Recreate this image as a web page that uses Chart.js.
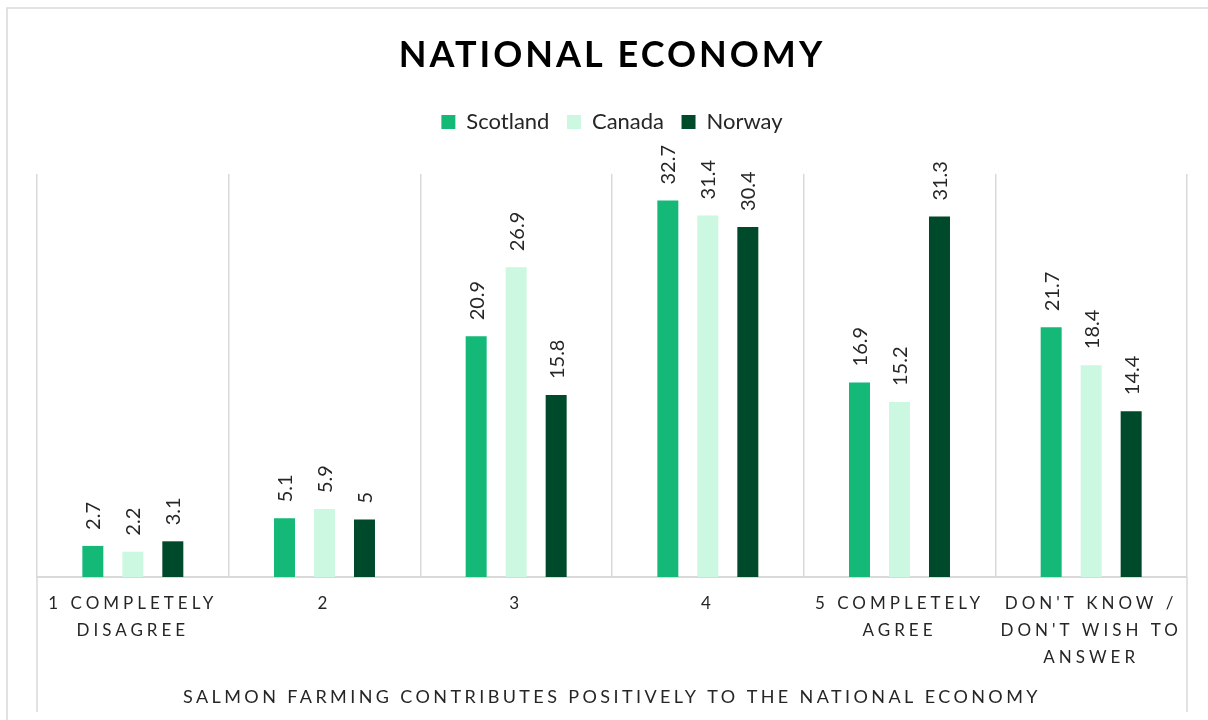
<!DOCTYPE html>
<html>
<head>
<meta charset="utf-8">
<title>National Economy</title>
<script src="https://cdn.jsdelivr.net/npm/chart.js@4/dist/chart.umd.min.js"></script>
<style>
  html, body { margin: 0; padding: 0; background: #ffffff; }
  #wrap { width: 1208px; height: 720px; position: relative; }
</style>
</head>
<body>
<div id="wrap"><canvas id="chart" width="1208" height="720"></canvas></div>
<script>
// Survey answers (percent of respondents) per country
const categories = [
  ['1 COMPLETELY', 'DISAGREE'],
  '2',
  '3',
  '4',
  ['5 COMPLETELY', 'AGREE'],
  ["DON'T KNOW /", "DON'T WISH TO", 'ANSWER']
];
const seriesNames = ['Scotland', 'Canada', 'Norway'];
const scotland = [2.7, 5.1, 20.9, 32.7, 16.9, 21.7];
const canada   = [2.2, 5.9, 26.9, 31.4, 15.2, 18.4];
const norway   = [3.1, 5, 15.8, 30.4, 31.3, 14.4];
const chartTitle = 'NATIONAL ECONOMY';
const axisTitle = 'SALMON FARMING CONTRIBUTES POSITIVELY TO THE NATIONAL ECONOMY';
const yMin = 0;
const yMax = 35;

const seriesColors = ['#14b978', '#ccf7e0', '#004a2c'];
const textColor = '#262626';
const lineColor = '#d9d9d9';
const FONT = 'Lato, "Open Sans", "DejaVu Sans", sans-serif';

// Wraps a draw method so its text is drawn with extra letter spacing
function withSpacing(obj, method, spacing) {
  if (!obj || obj['__spaced_' + method]) return;
  const orig = obj[method];
  obj[method] = function (...args) {
    const ctx = this.ctx;
    const prev = ctx.letterSpacing;
    ctx.letterSpacing = spacing;
    try { return orig.apply(this, args); }
    finally { ctx.letterSpacing = prev || '0px'; }
  };
  obj['__spaced_' + method] = true;
}

const letterSpacingPlugin = {
  id: 'letterSpacing',
  beforeDraw(chart) {
    withSpacing(chart.titleBlock, 'draw', '3px');
    withSpacing(chart.scales.x, 'drawLabels', '4px');
    withSpacing(chart.scales.x, 'drawTitle', '3.4px');
  }
};

// Light frame around the whole figure
const framePlugin = {
  id: 'frame',
  beforeDraw(chart) {
    const ctx = chart.ctx;
    ctx.save();
    ctx.strokeStyle = lineColor;
    ctx.lineWidth = 1.5;
    ctx.strokeRect(7, 8, chart.width + 20, chart.height + 20);
    ctx.restore();
  }
};

// Outer category separators run down past the tick labels
const edgeLinesPlugin = {
  id: 'edgeLines',
  afterDraw(chart) {
    const {ctx, chartArea} = chart;
    ctx.save();
    ctx.strokeStyle = lineColor;
    ctx.lineWidth = 1.5;
    ctx.beginPath();
    [chartArea.left, chartArea.right].forEach(x => {
      ctx.moveTo(x, chartArea.bottom);
      ctx.lineTo(x, chart.height - 8);
    });
    ctx.stroke();
    ctx.restore();
  }
};

// Rotated value labels above each bar
const valueLabelsPlugin = {
  id: 'valueLabels',
  afterDatasetsDraw(chart) {
    const ctx = chart.ctx;
    chart.data.datasets.forEach((ds, di) => {
      const meta = chart.getDatasetMeta(di);
      if (meta.hidden) return;
      meta.data.forEach((bar, i) => {
        const v = ds.data[i];
        ctx.save();
        ctx.translate(bar.x + 1, bar.y - 16);
        ctx.rotate(-Math.PI / 2);
        ctx.font = '20px ' + FONT;
        ctx.fillStyle = textColor;
        ctx.textAlign = 'left';
        ctx.textBaseline = 'middle';
        ctx.fillText(String(v), 0, 0);
        ctx.restore();
      });
    });
  }
};

const datasets = [scotland, canada, norway].map((values, i) => ({
  label: seriesNames[i],
  data: values,
  backgroundColor: seriesColors[i],
  borderWidth: 0,
  categoryPercentage: 0.626,
  barPercentage: 0.525
}));

new Chart(document.getElementById('chart'), {
  type: 'bar',
  data: { labels: categories, datasets },
  plugins: [framePlugin, letterSpacingPlugin, valueLabelsPlugin, edgeLinesPlugin],
  options: {
    responsive: false,
    animation: false,
    devicePixelRatio: 1,
    layout: { padding: { left: 37, right: 21, top: 0, bottom: 0 } },
    plugins: {
      title: {
        display: true,
        text: chartTitle,
        color: '#000000',
        font: { family: FONT, size: 36, weight: 'bold', lineHeight: 1.2 },
        padding: { top: 34, bottom: 16.3 }
      },
      subtitle: {
        display: true,
        text: '',
        weight: 500,
        font: { family: FONT, size: 10, lineHeight: 1 },
        padding: { top: 0, bottom: 21 }
      },
      legend: {
        display: true,
        position: 'top',
        labels: {
          boxWidth: 14,
          boxHeight: 14,
          padding: 17.5,
          color: textColor,
          font: { family: FONT, size: 22 }
        }
      },
      tooltip: { enabled: false }
    },
    scales: {
      x: {
        type: 'category',
        offset: true,
        grid: {
          display: true,
          offset: true,
          color: lineColor,
          lineWidth: 1.5,
          drawTicks: false
        },
        border: { display: true, color: lineColor, width: 2 },
        ticks: {
          color: textColor,
          font: { family: FONT, size: 17, lineHeight: 1.6 },
          padding: 13,
          autoSkip: false,
          maxRotation: 0,
          minRotation: 0
        },
        title: {
          display: true,
          text: axisTitle,
          color: textColor,
          font: { family: FONT, size: 18, lineHeight: 1.2 },
          padding: { top: 0, bottom: 12 }
        },
        afterFit(scale) { scale.height = 143; }
      },
      y: {
        display: false,
        min: yMin,
        max: yMax,
        grid: { display: false }
      }
    }
  }
});
</script>
</body>
</html>
